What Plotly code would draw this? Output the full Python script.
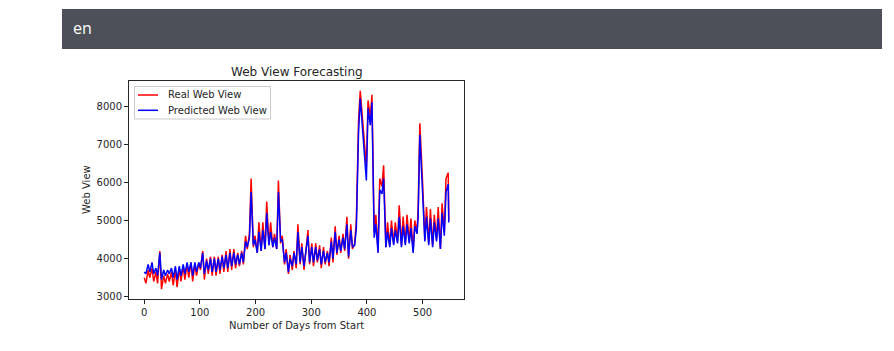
import plotly.graph_objects as go

days = [0, 3, 7, 10, 14, 17, 21, 24, 28,
        31, 35, 38, 42, 45, 49, 52, 56, 59,
        63, 66, 70, 73, 77, 80, 84, 87, 91, 94, 98,
        101, 105, 108, 112, 115, 119, 122,
        126, 129, 133, 136, 140, 143, 147, 150, 154, 157, 161, 164, 168, 171, 175, 178,
        182, 185, 189, 192,
        196, 199, 203, 206, 210, 213, 217, 220, 224, 227, 231, 234, 238,
        241, 245, 248, 252, 255, 259, 262,
        266, 269, 273, 276, 280, 283, 287, 290, 294, 297, 301,
        304, 308, 311, 315, 318, 322, 325, 329, 332, 336, 339, 343, 346, 350, 353, 357, 360, 364, 367, 371, 374, 378,
        381, 385, 388, 392, 395, 399, 402, 406, 409, 413,
        416, 420, 423, 427, 430, 434, 437, 441, 444, 448, 451, 455,
        458, 462, 465, 469, 472, 476, 479, 483, 486, 490, 492, 495,
        500, 504, 507, 511, 514, 518, 521, 525, 528, 532, 535, 539, 542, 546, 547]

real_views = [3500, 3350, 3700, 3500, 3750, 3400, 3650, 3350, 4200,
              3200, 3550, 3350, 3600, 3400, 3650, 3300, 3700, 3250,
              3750, 3400, 3800, 3450, 3850, 3500, 3900, 3400, 3850, 3550, 3900,
              3700, 4200, 3450, 4000, 3600, 4050, 3550,
              4050, 3550, 4050, 3600, 4100, 3650, 4200, 3650, 4250, 3700, 4250, 3750, 4150, 3800, 4200, 3850,
              4600, 4250, 4650, 6100,
              4300, 4600, 4150, 4950, 4200, 4950, 4250, 5500, 4350, 4950, 4300, 4650, 4250,
              6050, 4400, 4600, 3850, 4250, 3600, 4100,
              3700, 4200, 3750, 4900, 3850, 4400, 3700, 4250, 4750, 3850, 4400,
              3800, 4400, 3900, 4350, 3750, 4300, 3850, 4200, 3800, 4550, 3900, 4850, 4100, 4600, 4150, 4650, 4200, 5100, 4000, 4900, 4250, 4400,
              5000, 7650, 8400, 7600, 7050, 6400, 8150, 7700, 8300, 4700,
              5150, 4200, 6100, 5900, 6450, 4300, 4950, 4350, 5000, 4400, 4950, 4450,
              5400, 4350, 5100, 4400, 5150, 4450, 5050, 4200, 5000, 4700, 5300, 7550,
              6000, 4500, 5350, 4400, 5300, 4350, 5150, 4500, 5350, 4250, 5450, 4700, 6100, 6250, 5000]

predicted_views = [3650, 3600, 3850, 3650, 3900, 3600, 3750, 3550, 4150,
                   3450, 3700, 3550, 3700, 3600, 3750, 3500, 3800, 3450,
                   3800, 3550, 3850, 3600, 3900, 3650, 3900, 3550, 3900, 3650, 3900,
                   3750, 4150, 3600, 3950, 3700, 4000, 3650,
                   4000, 3650, 4000, 3700, 4050, 3750, 4100, 3750, 4150, 3800, 4150, 3850, 4100, 3850, 4150, 3900,
                   4450, 4300, 4550, 5750,
                   4350, 4500, 4150, 4700, 4200, 4750, 4250, 5200, 4350, 4700, 4300, 4550, 4250,
                   5750, 4450, 4500, 3900, 4150, 3650, 4000,
                   3800, 4150, 3850, 4700, 3900, 4300, 3800, 4200, 4600, 3900, 4300,
                   3900, 4300, 3950, 4250, 3850, 4200, 3900, 4150, 3900, 4450, 4000, 4700, 4150, 4500, 4200, 4550, 4250, 4900, 4050, 4750, 4300, 4350,
                   4800, 7350, 8200, 7400, 7000, 6050, 7950, 7500, 8100, 4550,
                   4900, 4150, 5800, 5700, 6100, 4300, 4700, 4300, 4800, 4350, 4750, 4400,
                   5100, 4300, 4850, 4350, 4900, 4400, 4800, 4150, 4850, 4650, 5100, 7250,
                   5700, 4450, 5100, 4350, 5050, 4300, 4950, 4450, 5050, 4250, 5200, 4600, 5750, 5950, 4950]

series_names = ["Real Web View", "Predicted Web View"]
series_colors = ["#ff0000", "#0000ff"]

x_ticks = [0, 100, 200, 300, 400, 500]
y_ticks = [3000, 4000, 5000, 6000, 7000, 8000]

FONT = "DejaVu Sans"
TXT = "#262626"
L, R, T, B = 129, 464, 81, 299
W, H = 894, 351
pw, ph = R - L, B - T

def px(x):
    return (x - L) / pw

def py(y):
    return (B - y) / ph

fig = go.Figure()
for name, vals, col in zip(series_names, [real_views, predicted_views], series_colors):
    fig.add_trace(go.Scatter(x=days, y=vals, mode="lines", name=name,
                             line=dict(color=col, width=1.5), showlegend=False))

axis_common = dict(showgrid=False, zeroline=False, showline=True, linecolor=TXT,
                   linewidth=1, mirror=True, ticks="outside", ticklen=4, tickwidth=1,
                   tickcolor=TXT, tickfont=dict(family=FONT, size=10, color=TXT))

fig.update_xaxes(range=[-27.35, 574.35], tickvals=x_ticks, **axis_common)
fig.update_yaxes(range=[2940, 8660], tickvals=y_ticks, **axis_common)

shapes = [dict(type="rect", xref="paper", yref="paper",
               x0=px(62), x1=px(882), y0=py(49), y1=py(9),
               fillcolor="#4d5058", line=dict(width=0), layer="above"),
          # legend box
          dict(type="rect", xref="paper", yref="paper",
               x0=px(134.5), x1=px(270.5), y0=py(119), y1=py(86.5),
               fillcolor="rgba(255,255,255,0.8)", line=dict(color="#cccccc", width=1),
               layer="above")]
annotations = [
    dict(text="en", xref="paper", yref="paper", x=px(71), y=py(28),
         xanchor="left", yanchor="middle", showarrow=False,
         font=dict(family="Open Sans", size=16, color="white")),
    dict(text="Web View Forecasting", xref="paper", yref="paper", x=px(296.5), y=py(72),
         xanchor="center", yanchor="middle", showarrow=False,
         font=dict(family=FONT, size=12, color=TXT)),
    dict(text="Number of Days from Start", xref="paper", yref="paper", x=px(296.5), y=py(325),
         xanchor="center", yanchor="middle", showarrow=False,
         font=dict(family=FONT, size=10, color=TXT)),
    dict(text="Web View", xref="paper", yref="paper", x=px(86), y=py(190),
         xanchor="center", yanchor="middle", showarrow=False, textangle=-90,
         font=dict(family=FONT, size=10, color=TXT)),
]
for i, (name, col) in enumerate(zip(series_names, series_colors)):
    ly = 95 + 15.3 * i
    shapes.append(dict(type="line", xref="paper", yref="paper",
                       x0=px(138), x1=px(158), y0=py(ly), y1=py(ly),
                       line=dict(color=col, width=1.5), layer="above"))
    annotations.append(dict(text=name, xref="paper", yref="paper", x=px(166), y=py(ly),
                            xanchor="left", yanchor="middle", showarrow=False,
                            font=dict(family=FONT, size=10, color=TXT)))

fig.update_layout(
    width=W, height=H,
    margin=dict(l=L, r=W - R, t=T, b=H - B, pad=0),
    paper_bgcolor="white", plot_bgcolor="white",
    showlegend=False,
    shapes=shapes,
    annotations=annotations,
)

fig.write_html("out.html")
